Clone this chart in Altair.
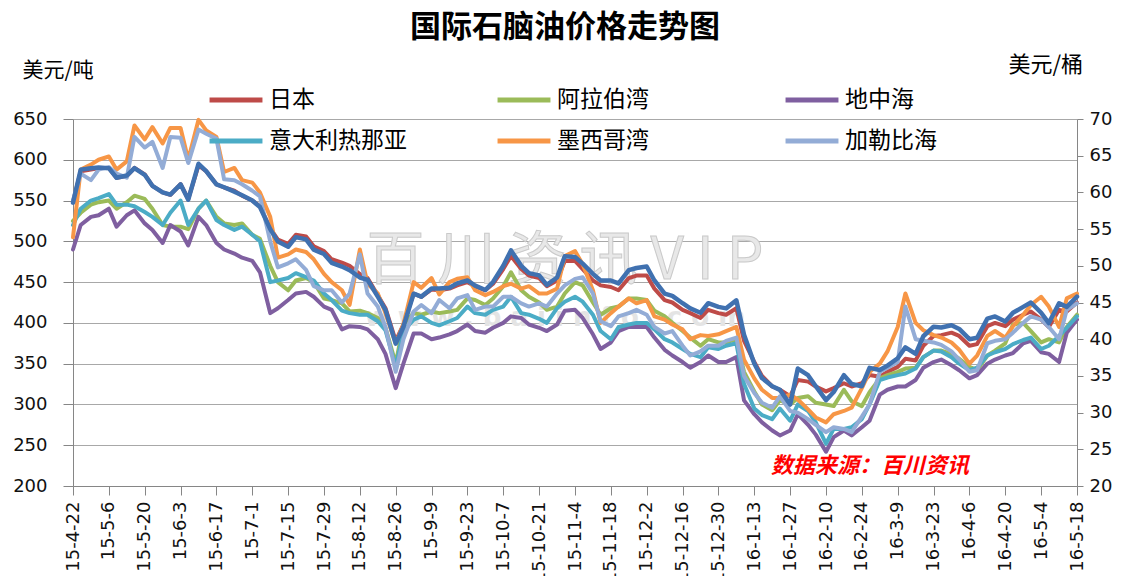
import altair as alt
import pandas as pd

# sampling dates: every Wednesday and the following Saturday
wed = pd.date_range("2015-04-22", "2016-05-18", freq="7D")
sat = wed[:-1] + pd.Timedelta(days=3)
dates = sorted(list(wed) + list(sat))
date_str = [d.strftime("%Y-%m-%d") for d in dates]
tick_dates = list(wed[::2])

names = ["日本", "阿拉伯湾", "地中海", "意大利热那亚", "墨西哥湾", "加勒比海"]
colors = ["#BE4B48", "#9BBB59", "#7F5FA0", "#4BACC6", "#F79646", "#93ACD6"]
# legend fills column by column (2 rows): order so rows read as in the original
legend_order = ["日本", "意大利热那亚", "阿拉伯湾", "墨西哥湾", "地中海", "加勒比海"]

jp = [548, 586, 588, 590, 590, 578, 580, 590,
      582, 568, 560, 557, 570, 552, 593, 586,
      570, 566, 562, 556, 550, 543, 516, 502,
      497, 508, 506, 494, 488, 478, 474, 470,
      460, 455, 434, 418, 378, 398, 436, 432,
      441, 440, 442, 446, 450, 445, 440, 448,
      466, 482, 466, 458, 455, 445, 452, 476,
      476, 466, 452, 446, 444, 440, 455, 458,
      458, 442, 428, 425, 416, 412, 406, 416,
      412, 410, 418, 378, 352, 335, 322, 318,
      310, 330, 328, 322, 316, 320, 326, 322,
      326, 336, 334, 340, 346, 356, 354, 372,
      384, 385, 388, 384, 372, 374, 396, 400,
      396, 404, 410, 414, 404, 395, 416, 414,
      425]
ag = [525, 535, 545, 548, 550, 540, 548, 556,
      552, 540, 520, 518, 518, 515, 540, 550,
      530, 522, 520, 522, 508, 503, 470, 450,
      440, 452, 455, 450, 430, 428, 424, 414,
      415, 412, 406, 394, 350, 398, 412, 410,
      414, 412, 414, 416, 430, 428, 422, 430,
      445, 462, 440, 432, 425, 416, 420, 436,
      450, 446, 425, 410, 418, 420, 430, 430,
      428, 415, 408, 400, 390, 382, 372, 380,
      376, 376, 380, 340, 316, 300, 293, 305,
      300, 308, 310, 302, 300, 298, 318, 304,
      298, 315, 332, 336, 340, 344, 345, 358,
      366, 366, 362, 356, 346, 342, 360, 366,
      375, 398, 400, 390, 376, 380, 376, 395,
      410]
med = [490, 520, 530, 532, 540, 518, 532, 538,
       522, 514, 498, 520, 512, 495, 530, 520,
       498, 490, 485, 480, 476, 462, 412, 418,
       428, 436, 438, 432, 420, 416, 392, 396,
       395, 392, 380, 362, 320, 350, 387, 387,
       380, 382, 386, 390, 398, 390, 388, 394,
       400, 408, 406, 398, 394, 390, 398, 415,
       416, 406, 386, 368, 376, 390, 395, 395,
       395, 382, 367, 360, 352, 345, 352, 360,
       352, 352, 358, 305, 288, 278, 268, 262,
       268, 288, 275, 263, 242, 260, 268, 262,
       272, 280, 312, 318, 322, 322, 330, 345,
       352, 355, 348, 342, 332, 336, 350, 355,
       360, 363, 375, 378, 364, 362, 352, 388,
       404]
ita = [520, 540, 550, 553, 558, 545, 545, 543,
       536, 530, 520, 535, 550, 520, 540, 550,
       526, 520, 514, 518, 508, 500, 450, 452,
       455, 461, 456, 452, 436, 428, 415, 412,
       410, 410, 402, 391, 346, 390, 404, 408,
       400, 397, 402, 406, 420, 412, 410, 416,
       420, 432, 412, 410, 405, 400, 418, 426,
       432, 426, 410, 390, 380, 395, 398, 400,
       400, 392, 380, 376, 368, 362, 358, 370,
       368, 372, 375, 325, 295, 287, 282, 295,
       280, 300, 292, 278, 252, 270, 270, 272,
       282, 300, 330, 333, 336, 338, 344, 358,
       366, 365, 358, 350, 342, 345, 360, 364,
       368, 374, 379, 382, 368, 372, 384, 394,
       408]
mex = [505, 588, 594, 600, 604, 588, 598, 642,
       625, 640, 620, 639, 639, 600, 649, 636,
       628, 585, 590, 575, 572, 560, 530, 480,
       484, 490, 487, 478, 460, 450, 440, 422,
       490, 448, 436, 412, 375, 398, 450, 443,
       455, 435, 450, 454, 456, 440, 434, 438,
       445, 448, 442, 445, 436, 436, 442, 482,
       488, 472, 440, 400, 412, 420, 430, 424,
       428, 408, 404, 398, 392, 380, 385, 384,
       386, 390, 395, 355, 332, 318, 308, 308,
       312, 306, 294, 284, 278, 288, 292, 296,
       320, 340, 350, 365, 395, 436, 400, 391,
       385, 382, 376, 367, 350, 360, 384, 390,
       382, 396, 410, 422, 432, 420, 395, 430,
       436]
car = [550, 583, 575, 588, 591, 583, 578, 628,
       615, 622, 590, 628, 627, 596, 637, 632,
       626, 576, 575, 570, 562, 555, 500, 468,
       473, 478, 465, 445, 440, 440, 425, 436,
       484, 436, 420, 395, 340, 380, 414, 422,
       412, 428, 418, 430, 434, 416, 420, 420,
       432, 432, 424, 420, 424, 420, 436, 446,
       454, 456, 436, 402, 396, 408, 412, 416,
       410, 395, 387, 390, 372, 360, 365, 372,
       372, 378, 382, 335, 314, 302, 296, 310,
       292, 290, 282, 275, 266, 272, 270, 266,
       285, 300, 340, 345, 352, 420, 380, 378,
       376, 373, 365, 355, 340, 342, 375, 378,
       380, 388, 400, 408, 404, 395, 380, 416,
       424]
# crude oil, USD/bbl (right axis)
crude = [58.6, 63.1, 63.3, 63.4, 63.3, 62.0, 62.3, 63.3,
         62.4, 60.9, 60.0, 59.7, 61.1, 59.0, 63.9, 62.9,
         61.1, 60.7, 60.1, 59.6, 58.9, 58.0, 55.0, 53.3,
         52.6, 53.9, 53.6, 52.2, 51.6, 50.4, 49.9, 49.4,
         48.4, 48.1, 45.8, 44.0, 39.4, 41.7, 46.2, 45.8,
         46.9, 46.9, 47.0, 47.6, 48.0, 47.3, 46.7, 47.8,
         50.0, 52.1, 50.0, 49.0, 48.7, 47.4, 48.4, 51.3,
         51.2, 50.3, 48.9, 48.0, 48.0, 47.6, 49.4, 49.7,
         49.9, 48.0, 46.2, 45.9, 44.9, 44.2, 43.6, 44.9,
         44.4, 44.2, 45.3, 40.6, 36.7, 34.7, 33.6, 33.1,
         31.1, 36.0, 35.1, 33.6, 31.7, 32.8, 35.1, 33.9,
         33.6, 36.1, 35.8, 36.4, 37.4, 38.9, 38.0, 40.4,
         41.7, 41.6, 41.9, 41.4, 40.0, 40.2, 42.8, 43.1,
         42.4, 43.6, 44.4, 45.0, 43.6, 42.2, 44.9, 44.4,
         45.8]

series_vals = [jp, ag, med, ita, mex, car]
for v in series_vals + [crude]:
    assert len(v) == len(date_str), (len(v), len(date_str))

rows = []
for name, vals in zip(names, series_vals):
    for d, y in zip(date_str, vals):
        rows.append({"date": d, "series": name, "price": y})
df = pd.DataFrame(rows)
df_crude = pd.DataFrame({"date": date_str, "crude": crude})

color_map = dict(zip(names, colors))


def ms(d):
    return int(pd.Timestamp(d).tz_localize("UTC").timestamp() * 1000)


CJK = "Noto Sans CJK SC"
NUM = "DejaVu Sans"
AXC = "#868686"

x_enc = alt.X(
    "date:T",
    title=None,
    scale=alt.Scale(type="utc", domain=[ms(wed[0]), ms(wed[-1])]),
    axis=alt.Axis(
        values=[ms(d) for d in tick_dates], format="%y-%-m-%-d",
        labelAngle=-90, labelAlign="right", labelBaseline="middle",
        labelFont=NUM, labelFontSize=18, labelColor="#111111",
        labelPadding=6, labelOverlap=False, labelFlush=False,
        tickSize=9, tickColor=AXC, domainColor=AXC, grid=False,
    ),
)

y_left = alt.Y(
    "price:Q",
    scale=alt.Scale(domain=[200, 650], nice=False, zero=False),
    axis=alt.Axis(
        values=list(range(200, 651, 50)), grid=True, gridColor="#A8A8A8",
        domainColor=AXC, tickColor=AXC, tickSize=10, labelPadding=16,
        labelFont=NUM, labelFontSize=18, labelColor="#111111",
        title="美元/吨", titleAngle=0, titleX=-51, titleY=-49,
        titleAlign="left", titleBaseline="middle", titleFont=CJK,
        titleFontSize=21, titleFontWeight="normal", titleColor="#000000",
    ),
)

y_right = alt.Y(
    "crude:Q",
    scale=alt.Scale(domain=[20, 70], nice=False, zero=False),
    axis=alt.Axis(
        orient="right", values=list(range(20, 71, 5)), grid=False,
        domainColor=AXC, tickColor=AXC, tickSize=6, labelPadding=6,
        labelFont=NUM, labelFontSize=18, labelColor="#111111",
        title="美元/桶", titleAngle=0, titleX=-69, titleY=-55,
        titleAlign="left", titleBaseline="middle", titleFont=CJK,
        titleFontSize=22, titleFontWeight="normal", titleColor="#000000",
    ),
)

color_enc = alt.Color(
    "series:N",
    title=None,
    scale=alt.Scale(domain=legend_order,
                    range=[color_map[n] for n in legend_order]),
    legend=alt.Legend(
        orient="none", legendX=134, legendY=-48, columns=3,
        symbolType="stroke", symbolSize=2800, symbolStrokeWidth=5,
        labelFont=CJK, labelFontSize=23, labelColor="#000000",
        labelOffset=4, columnPadding=80, rowPadding=-4, gridAlign="all",
        labelLimit=400, padding=0,
    ),
)

wm = alt.Chart(pd.DataFrame({"t": ["百  川  资  讯      V  I  P"]})).mark_text(
    font=CJK, fontSize=58, fill="#E8E8E8", stroke="#CACACA", strokeWidth=1,
    align="center", baseline="middle",
).encode(text="t:N", x=alt.value(492), y=alt.value(143))

wm2 = alt.Chart(pd.DataFrame({"t": ["w  w  w  .  b  a  i  i  n  f  o  .  c  o  m"]})).mark_text(
    font=NUM, fontSize=26, fontWeight="bold", fill="#E4E4E4",
    align="center", baseline="middle",
).encode(text="t:N", x=alt.value(482), y=alt.value(199))

lines = alt.Chart(df).mark_line(
    strokeWidth=4, strokeJoin="round", strokeCap="round"
).encode(x=x_enc, y=y_left, color=color_enc)

crude_line = alt.Chart(df_crude).mark_line(
    strokeWidth=4.5, strokeJoin="round", strokeCap="round", color="#4071B0"
).encode(x=x_enc, y=y_right)

title = alt.Chart(pd.DataFrame({"t": ["国际石脑油价格走势图"]})).mark_text(
    font=CJK, fontSize=31, fontWeight="bold", color="#000000",
    align="center", baseline="middle",
).encode(text="t:N", x=alt.value(492), y=alt.value(-91))

source = alt.Chart(pd.DataFrame({"t": ["数据来源：百川资讯"]})).mark_text(
    font=CJK, fontSize=22, fontWeight="bold", fontStyle="italic",
    color="#FF0000", align="center", baseline="middle",
).encode(text="t:N", x=alt.value(797), y=alt.value(347))

chart = alt.layer(wm, wm2, lines, crude_line, title, source).resolve_scale(
    y="independent"
).properties(
    width=1004, height=367,
    autosize=alt.AutoSizeParams(type="none"),
    padding={"left": 65, "top": 111, "right": 47, "bottom": 90},
).configure_view(strokeWidth=0)

chart.save("out.html", embed_options={"renderer": "svg", "actions": False})
